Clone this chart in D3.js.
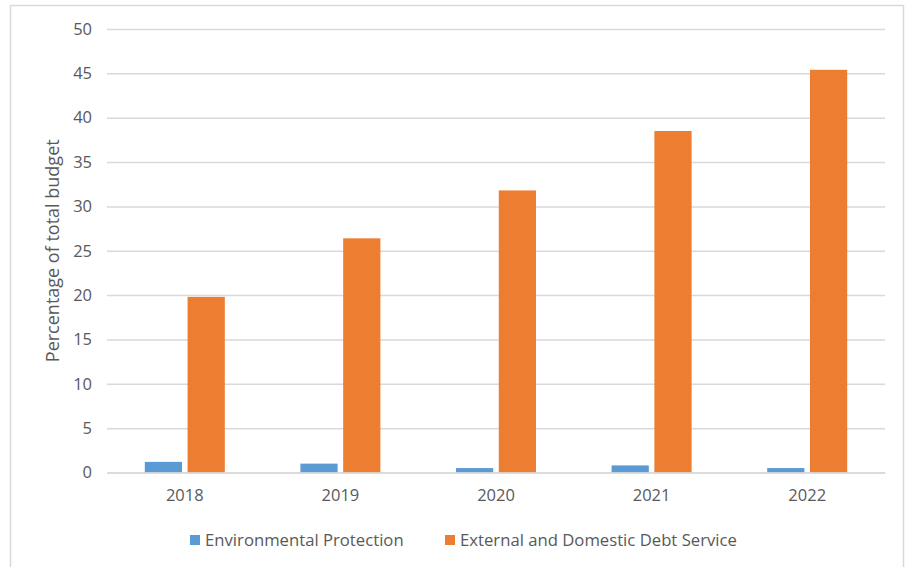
<!DOCTYPE html>
<html><head><meta charset="utf-8">
<script src="https://cdn.jsdelivr.net/npm/d3@7"></script>
<style>body{margin:0;background:#fff}svg{display:block}</style>
</head><body>
<svg id="c" width="911" height="567"></svg>
<script>
const categories = ["2018","2019","2020","2021","2022"];
const seriesNames = ["Environmental Protection","External and Domestic Debt Service"];
const envProtection = [1.2, 1.0, 0.5, 0.8, 0.5];
const debtService = [19.8, 26.4, 31.8, 38.5, 45.4];
const yTicks = [0,5,10,15,20,25,30,35,40,45,50];
const colors = ["#5b9bd5","#ed7d31"];

(function(){
const svg = d3.select("#c");
const font = "'Open Sans', sans-serif";
const textColor = "#595959";

svg.append("rect").attr("x",10.5).attr("y",5.5).attr("width",893).attr("height",600)
  .attr("fill","none").attr("stroke","#d9d9d9").attr("stroke-width",1.5);

const pl = 107, pr = 885, pt = 29, pb = 472.5;
const x = d3.scaleBand().domain(categories).range([pl,pr]);
const xs = d3.scaleBand().domain(seriesNames).range([0,80]).paddingInner(0.13);
const y = d3.scaleLinear().domain([0,50]).range([pb,pt]);

const yAxis = d3.axisLeft(y).tickValues(yTicks).tickSize(-(pr-pl)).tickPadding(15);
const ga = svg.append("g").attr("transform",`translate(${pl},0)`).call(yAxis);
ga.select(".domain").remove();
ga.selectAll(".tick line").attr("stroke","#d9d9d9").attr("stroke-width",1.5);
ga.selectAll(".tick text").attr("fill",textColor).style("font-family",font).style("font-size","16.5px");

const series = [envProtection, debtService];
const groups = svg.append("g");
series.forEach((vals, si) => {
  groups.selectAll(null).data(categories).enter().append("rect")
    .attr("x", c => x(c) + x.bandwidth()/2 - 40 + xs(seriesNames[si]))
    .attr("width", xs.bandwidth())
    .attr("y", (c,i) => y(vals[i]))
    .attr("height", (c,i) => y(0) - y(vals[i]))
    .attr("fill", colors[si]);
});

const xAxis = d3.axisBottom(x).tickSize(0).tickPadding(17);
const gx = svg.append("g").attr("transform",`translate(0,${pb})`).call(xAxis);
gx.select(".domain").attr("stroke","#d9d9d9").attr("stroke-width",1.5);
gx.selectAll(".tick text").attr("fill",textColor).style("font-family",font).style("font-size","16.5px");

svg.append("text").attr("transform",`translate(59,${(pt+pb)/2}) rotate(-90)`)
  .attr("text-anchor","middle").attr("fill",textColor).style("font-family",font).style("font-size","18px")
  .text("Percentage of total budget");

const legendX = [190, 445];
seriesNames.forEach((n,i)=>{
  svg.append("rect").attr("x",legendX[i]).attr("y",535).attr("width",10).attr("height",10).attr("fill",colors[i]);
  svg.append("text").attr("x",legendX[i]+15).attr("y",546).attr("fill",textColor)
    .style("font-family",font).style("font-size","16.7px").text(n);
});
})();
</script>
</body></html>
